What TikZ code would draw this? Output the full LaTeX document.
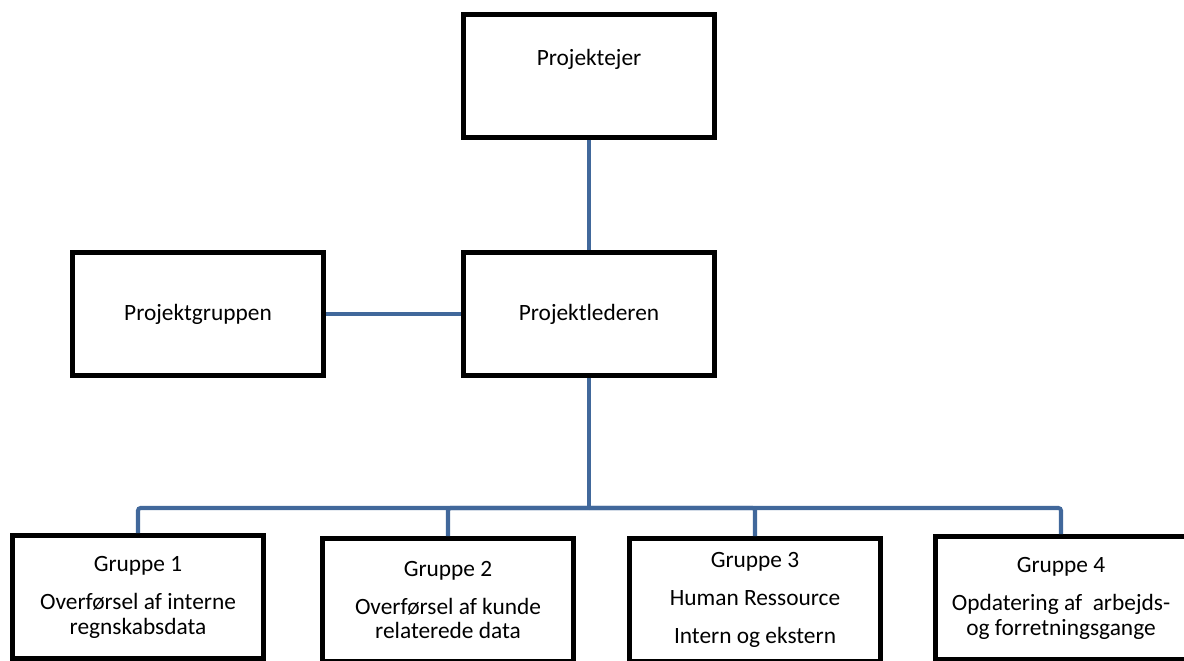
\documentclass[tikz,border=0pt]{standalone}
\usepackage{fontspec}
\setmainfont{Carlito}
\usepackage{tikz}
\definecolor{steel}{HTML}{41689B}

\begin{document}
\begin{tikzpicture}[x=0.02cm,y=-0.02cm,
  box/.style={draw,line width=2.85pt,minimum width=5.04cm,minimum height=2.46cm,
    align=center,inner sep=0pt,font=\fontsize{13.3}{14.2}\selectfont},
  conn/.style={steel,line width=2.3pt,rounded corners=1.5pt}]
\useasboundingbox (0,0) rectangle (1184,660);
\clip (0,0) rectangle (1184,660);
\node[box,text depth=0.75cm] (eier) at (589,76) {Projektejer};
\node[box] (leder) at (589,314) {Projektlederen};
\node[box] (gruppen) at (198,314) {Projektgruppen};
\node[box] (g1) at (138,597) {Gruppe 1\\[7.4pt]Overførsel af interne\\regnskabsdata};
\node[box] (g2) at (448,600) {Gruppe 2\\[7.4pt]Overførsel af kunde\\relaterede data};
\node[box] (g3) at (755,600) {Gruppe 3\\[7.4pt]Human Ressource\\[7.4pt]Intern og ekstern};
\node[box] (g4) at (1061,598) {Gruppe 4\\[7.4pt]Opdatering af~ arbejds-\\og forretningsgange};
\coordinate (bus) at (589,508);
\draw[conn] (eier) -- (leder);
\draw[conn] (gruppen) -- (leder);
\draw[conn] (leder) -- (bus);
\foreach \g in {g1,g2,g3,g4}
  \draw[conn] (bus) -| (\g.north);
\end{tikzpicture}
\end{document}
